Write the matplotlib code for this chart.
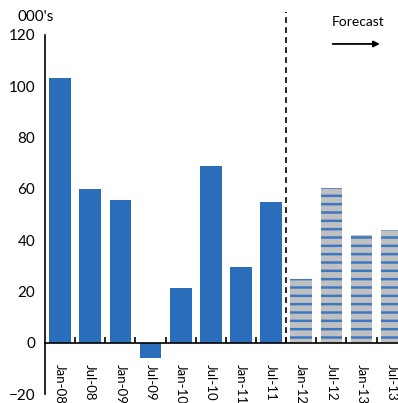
import matplotlib
matplotlib.use("Agg")
import matplotlib.pyplot as plt
import numpy as np

labels = ["Jan-08", "Jul-08", "Jan-09", "Jul-09", "Jan-10", "Jul-10",
          "Jan-11", "Jul-11", "Jan-12", "Jul-12", "Jan-13", "Jul-13"]
values = [103.2, 60.0, 55.7, -5.8, 21.4, 69.0, 29.6, 55.0, 25.0, 60.4, 42.0, 44.0]
forecast = [False] * 8 + [True] * 4
yticks = [-20, 0, 20, 40, 60, 80, 100, 120]

BLUE = "#2a6ebb"
GREY = "#c0c0c0"
STRIPE = "#3f78c2"

plt.rcParams["font.family"] = ["Lato", "DejaVu Sans"]
plt.rcParams["hatch.linewidth"] = 1.8
plt.rcParams["hatch.color"] = STRIPE

fig = plt.figure(figsize=(3.98, 4.03), dpi=100)
ax = fig.add_axes([45 / 398, 8.7 / 403, 1 - 45 / 398, 385 / 403])

x = np.arange(len(values))
for xi, v, fc in zip(x, values, forecast):
    if fc:
        ax.bar(xi, v, width=0.72, color=GREY, hatch="--", edgecolor=STRIPE, linewidth=0)
    else:
        ax.bar(xi, v, width=0.72, color=BLUE)

ax.set_xlim(-0.5, 11.21)
ax.set_ylim(-20, 130)

# spines
ax.spines["top"].set_visible(False)
ax.spines["right"].set_visible(False)
ax.spines["left"].set_bounds(-20, 120)
ax.spines["bottom"].set_position(("data", 0))
for s in ("left", "bottom"):
    ax.spines[s].set_color("black")
    ax.spines[s].set_linewidth(1.2)

ax.set_yticks(yticks)
ax.tick_params(axis="y", length=0, labelsize=11, pad=7)
ax.set_xticks(x)
ax.set_xticklabels(labels, rotation=270, fontsize=9.5)
ax.tick_params(axis="x", which="major", length=0, pad=15)
ax.set_xticks(x[:-1] + 0.5, minor=True)
ax.tick_params(axis="x", which="minor", direction="in", length=4, width=1.2)

# forecast divider
ax.plot([7.5, 7.5], [0, 129], color="black", linestyle=(0, (3.5, 2.5)), linewidth=1.2)
ax.annotate("", xy=(10.7, 116.5), xytext=(8.95, 116.5),
            arrowprops=dict(arrowstyle="-|>", color="black", lw=1.3, mutation_scale=9))
ax.text(9.9, 125, "Forecast", ha="center", va="center", fontsize=10)

fig.text(17 / 398, 1 - 17 / 403, "000's", ha="left", va="center", fontsize=11)

fig.savefig("out.png", dpi=100)
